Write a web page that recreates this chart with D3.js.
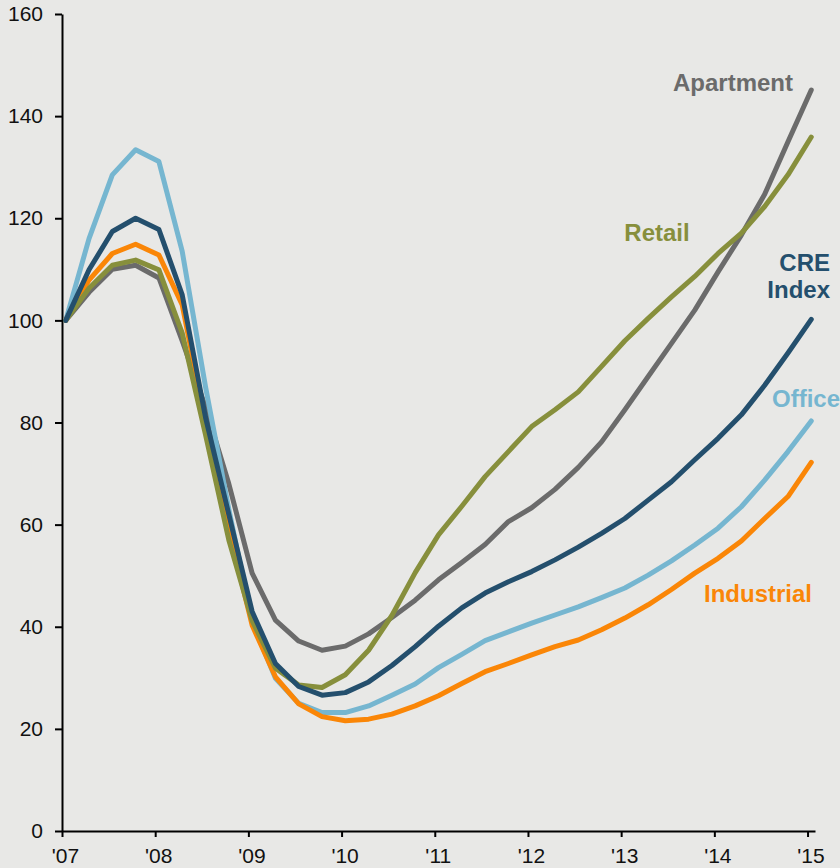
<!DOCTYPE html>
<html>
<head>
<meta charset="utf-8">
<script src="https://cdn.jsdelivr.net/npm/d3@7"></script>
<style>
  html, body { margin: 0; padding: 0; background: #e8e8e6; }
  svg { display: block; }
  text { font-family: "Liberation Sans", Arial, sans-serif; }
</style>
</head>
<body>
<svg id="chart" width="840" height="868"></svg>
<script>
// ---- data ----
const years = [2007, 2008, 2009, 2010, 2011, 2012, 2013, 2014, 2015];
const yTicks = [0, 20, 40, 60, 80, 100, 120, 140, 160];
// quarterly observations, 2007 Q1 .. 2015 Q1
const quarters = d3.range(33).map(i => 2007.04 + i * 0.25);

const apartment = [100, 105.5, 110, 110.8, 108.3, 96, 83, 68, 50.5, 41.3, 37.2, 35.4, 36.2, 38.6, 41.8, 45.2,
  49.2, 52.6, 56.1, 60.6, 63.3, 66.9, 71.2, 76.2, 82.5, 89, 95.5, 102, 109.5, 116.7, 124.7, 135, 145.1];
const retail = [100, 106.3, 110.8, 111.8, 109.9, 97.5, 77.6, 57, 41.2, 31.9, 28.6, 28.1, 30.6, 35.4, 42.2, 50.6,
  58, 63.6, 69.4, 74.3, 79.2, 82.5, 86, 91, 96, 100.4, 104.6, 108.6, 113.1, 117.1, 122.3, 128.5, 135.9];
const creIndex = [100, 109.9, 117.4, 120, 117.8, 105, 81, 62, 43, 32.8, 28.3, 26.6, 27.1, 29.2, 32.4, 36.1,
  40.1, 43.7, 46.6, 48.8, 50.8, 53.1, 55.6, 58.3, 61.2, 64.8, 68.4, 72.7, 76.9, 81.5, 87.3, 93.6, 100.2];
const office = [100, 116, 128.5, 133.4, 131.1, 113.5, 87, 63, 41, 29.9, 25, 23.2, 23.2, 24.5, 26.6, 28.8,
  32, 34.6, 37.3, 39, 40.7, 42.3, 43.9, 45.7, 47.6, 50.1, 52.9, 56, 59.3, 63.5, 68.7, 74.3, 80.3];
const industrial = [100, 107.9, 113.1, 114.9, 112.8, 103, 80, 59, 40.3, 30.2, 24.9, 22.4, 21.6, 21.9, 22.9, 24.5,
  26.5, 28.9, 31.2, 32.8, 34.5, 36.1, 37.4, 39.4, 41.7, 44.3, 47.3, 50.5, 53.4, 56.8, 61.2, 65.5, 72.2];

// draw order (bottom -> top)
const series = [
  { name: "Apartment", values: apartment, color: "#6b6b6b" },
  { name: "Office", values: office, color: "#76b6d0" },
  { name: "Industrial", values: industrial, color: "#fa8607" },
  { name: "Retail", values: retail, color: "#878f3c" },
  { name: "CRE Index", values: creIndex, color: "#244f6d" }
];

// ---- layout ----
const svg = d3.select("#chart");
const x = d3.scaleLinear().domain([2007, 2015.08]).range([62, 815]);
const y = d3.scaleLinear().domain([0, 160]).range([831, 14]);

svg.append("rect").attr("width", 840).attr("height", 868).attr("fill", "#e8e8e6");

// y axis
const yAxis = svg.append("g")
  .attr("transform", "translate(62,0)")
  .call(d3.axisLeft(y).tickValues(yTicks).tickSize(7).tickSizeOuter(0).tickPadding(12));
yAxis.select(".domain").attr("stroke", "#000").attr("stroke-width", 2);
yAxis.selectAll(".tick line").attr("stroke", "#000").attr("stroke-width", 2);
yAxis.selectAll(".tick text").attr("font-size", 21).attr("fill", "#111")
  .attr("font-family", "'Liberation Sans', Arial, sans-serif");

// x axis
const xAxis = svg.append("g")
  .attr("transform", "translate(0,831)")
  .call(d3.axisBottom(x).tickValues(years).tickSize(6).tickSizeOuter(0).tickPadding(11)
    .tickFormat(d => "'" + String(d).slice(2)));
xAxis.select(".domain").attr("stroke", "#000").attr("stroke-width", 2);
xAxis.selectAll(".tick line").attr("stroke", "#000").attr("stroke-width", 2);
xAxis.selectAll(".tick text").attr("font-size", 21).attr("fill", "#111").attr("dx", 3)
  .attr("font-family", "'Liberation Sans', Arial, sans-serif");

// lines
const line = d3.line()
  .x((d, i) => x(quarters[i]))
  .y(d => y(d));

svg.append("g").selectAll("path")
  .data(series)
  .join("path")
  .attr("d", d => line(d.values))
  .attr("fill", "none")
  .attr("stroke", d => d.color)
  .attr("stroke-width", 5)
  .attr("stroke-linejoin", "round")
  .attr("stroke-linecap", "round");

// labels
const labels = [
  { lines: ["Apartment"], x: 793, y: 91, anchor: "end", color: "#6b6b6b" },
  { lines: ["Retail"], x: 657, y: 241, anchor: "middle", color: "#878f3c" },
  { lines: ["CRE", "Index"], x: 830, y: 270.5, anchor: "end", color: "#244f6d" },
  { lines: ["Office"], x: 772, y: 407, anchor: "start", color: "#76b6d0" },
  { lines: ["Industrial"], x: 812, y: 602, anchor: "end", color: "#fa8607" }
];
labels.forEach(l => {
  const t = svg.append("text")
    .attr("x", l.x).attr("y", l.y)
    .attr("text-anchor", l.anchor)
    .attr("font-size", 24).attr("font-weight", "bold")
    .attr("fill", l.color);
  l.lines.forEach((s, i) => {
    t.append("tspan").attr("x", l.x).attr("dy", i === 0 ? 0 : 27.7).text(s);
  });
});
</script>
</body>
</html>
